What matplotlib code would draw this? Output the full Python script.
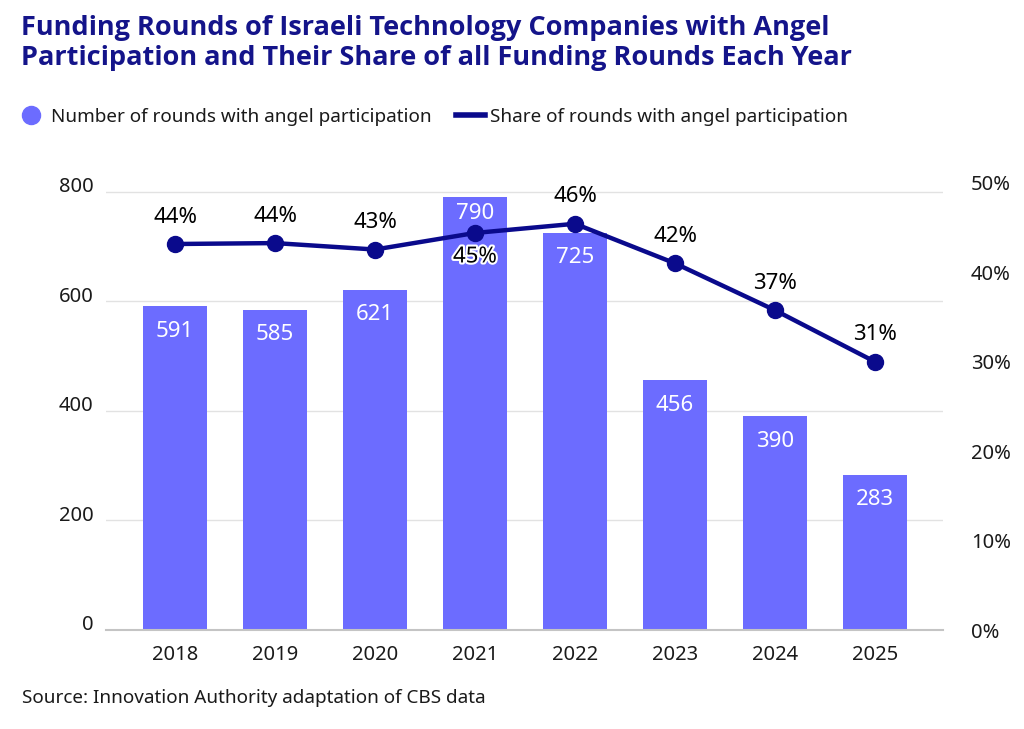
import matplotlib
matplotlib.use('Agg')
from matplotlib import pyplot as plt
from matplotlib.lines import Line2D
from matplotlib import patheffects as pe
from matplotlib import transforms

plt.rcParams['font.family'] = ['Noto Sans', 'DejaVu Sans']

# chart data
years = ['2018', '2019', '2020', '2021', '2022', '2023', '2024', '2025']
rounds = [591, 585, 621, 790, 725, 456, 390, 283]
share = [43.8, 43.9, 43.2, 45.0, 46.0, 41.7, 36.6, 31.0]

title = ('Funding Rounds of Israeli Technology Companies with Angel\n'
         'Participation and Their Share of all Funding Rounds Each Year')
legend_labels = ['Number of rounds with angel participation',
                 'Share of rounds with angel participation']
source = 'Source: Innovation Authority adaptation of CBS data'

bar_color = '#6c6cff'
line_color = '#0a0a8c'
title_color = '#14148a'
text_color = '#1a1a1a'

W, H = 1024, 729
fig = plt.figure(figsize=(W / 100, H / 100), dpi=100)
ax = fig.add_axes([106 / W, 1 - 630 / H, (943 - 106) / W, (630 - 183) / H])

x = list(range(len(years)))
ax.bar(x, rounds, width=0.64, color=bar_color, zorder=2)
ax.set_xlim(-0.69, 7.68)
ax.set_ylim(0, 816)
ax.set_xticks(x)
ax.set_xticklabels(years)
ax.set_yticks([0, 200, 400, 600, 800])
ax.yaxis.grid(True, color='#e2e2e2', lw=1, zorder=0)
ax.set_axisbelow(True)
for s in ['top', 'left', 'right']:
    ax.spines[s].set_visible(False)
ax.spines['bottom'].set_color('#c4c4c4')
ax.spines['bottom'].set_linewidth(1.5)
ax.tick_params(axis='both', length=0, labelsize=14.5, colors=text_color)
ax.tick_params(axis='x', pad=11)
ax.tick_params(axis='y', pad=9)
up = transforms.ScaledTranslation(0, 7 / 100, fig.dpi_scale_trans)
for lab in ax.get_yticklabels():
    lab.set_transform(lab.get_transform() + up)

# bar value labels, inside the top of each bar
for i, v in enumerate(rounds):
    off = -16 if i == 3 else -25
    ax.annotate(str(v), (i, v), xytext=(0, off), textcoords='offset pixels',
                ha='center', va='center', color='white', fontsize=16, zorder=3)

# right percentage axis
ax_pct = ax.twinx()
ax_pct.set_ylim(0, 50)
ax_pct.set_yticks([0, 10, 20, 30, 40, 50])
ax_pct.set_yticklabels([f'{t}%' for t in [0, 10, 20, 30, 40, 50]])
ax_pct.tick_params(axis='y', length=0, pad=20, labelsize=14.5, colors=text_color)
for s in ax_pct.spines.values():
    s.set_visible(False)

# share line
ax_line = ax.twinx()
ax_line.set_ylim(1.85, 50.43)
ax_line.axis('off')
ax_line.plot(x, share, color=line_color, lw=3.2, marker='o', ms=11.5, zorder=4,
             clip_on=False)
for i, v in enumerate(share):
    lbl = f'{int(v + 0.5)}%'
    if i == 3:
        ax_line.annotate(lbl, (i, v), xytext=(0, -24), textcoords='offset pixels',
                         ha='center', va='center', fontsize=16, color='black',
                         path_effects=[pe.withStroke(linewidth=3, foreground='white')])
    else:
        ax_line.annotate(lbl, (i, v), xytext=(0, 27), textcoords='offset pixels',
                         ha='center', va='center', fontsize=16, color='black')

fig.text(21 / W, 1 - 15 / H, title, ha='left', va='top', fontsize=19.5,
         fontweight='bold', family=['Open Sans', 'DejaVu Sans'],
         color=title_color, linespacing=1.2)

handles = [Line2D([], [], marker='o', ls='', color=bar_color, ms=13),
           Line2D([], [], color=line_color, lw=4)]
fig.legend(handles, legend_labels, loc='center left',
           bbox_to_anchor=(0 / W, 1 - 117 / H), ncol=2, frameon=False,
           fontsize=13.6, handlelength=1.5, handletextpad=0.3, columnspacing=1.3,
           labelcolor=text_color)

fig.text(22 / W, 1 - 698 / H, source, ha='left', va='center', fontsize=13.6,
         color=text_color)

fig.savefig('out.png', dpi=100, facecolor='white')
